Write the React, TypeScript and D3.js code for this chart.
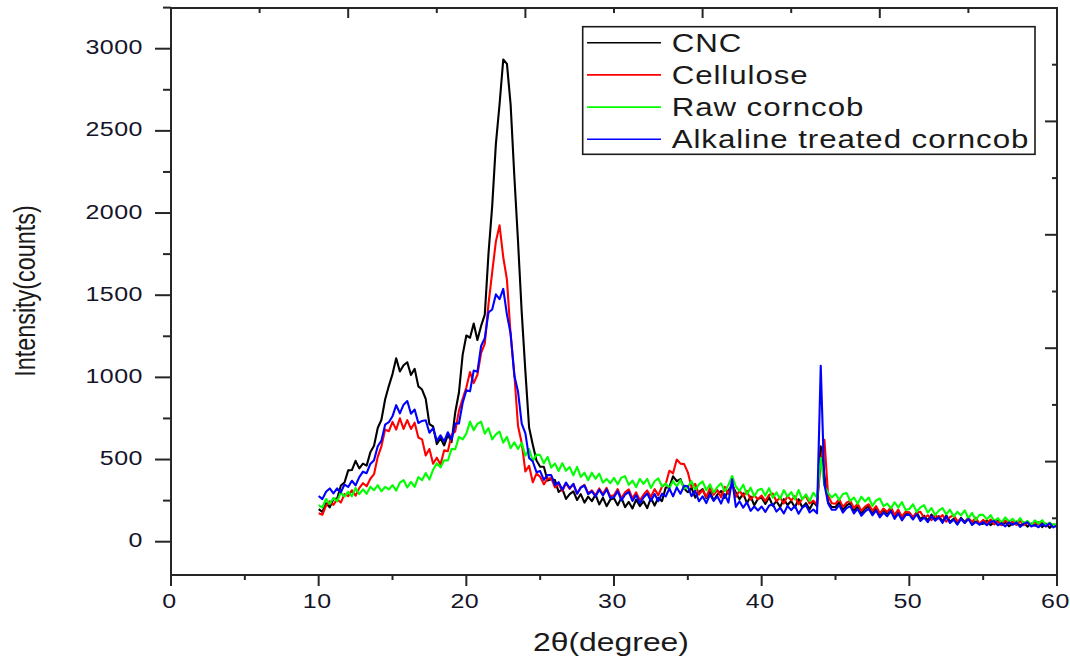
import React from 'react';
import * as d3 from 'd3';

// sampling grid of the diffractograms (2θ, degrees)
const ANGLE_START = 10;
const ANGLE_STEP = 0.25;

// Intensity (counts), one value every 0.25° from 10° to 60°
const cnc = [
  198, 181, 234, 209, 261, 261, 341, 360, 434, 436, 492, 446, 475, 463, 544, 584, 692, 742, 865, 947,
  1020, 1116, 1036, 1074, 1092, 1014, 1052, 945, 926, 869, 715, 701, 594, 630, 586, 650, 606, 788, 908, 1137,
  1255, 1241, 1328, 1228, 1313, 1382, 1752, 2041, 2419, 2662, 2934, 2908, 2659, 2225, 1828, 1397, 1035, 695, 590, 494,
  456, 456, 372, 380, 375, 303, 321, 260, 289, 306, 254, 290, 238, 274, 247, 286, 227, 268, 216, 256,
  264, 222, 268, 210, 242, 202, 256, 217, 246, 204, 266, 220, 267, 247, 329, 332, 398, 368, 381, 324,
  301, 328, 268, 302, 320, 266, 302, 252, 286, 308, 267, 312, 345, 299, 258, 294, 234, 275, 222, 262,
  268, 230, 271, 219, 247, 211, 259, 223, 248, 208, 259, 208, 235, 197, 242, 215, 580, 400, 240, 211,
  211, 240, 194, 221, 234, 189, 217, 175, 201, 217, 178, 207, 165, 194, 172, 203, 155, 187, 144, 175,
  177, 147, 178, 137, 158, 129, 165, 137, 155, 123, 161, 121, 140, 110, 145, 120, 144, 107, 124, 107,
  110, 129, 101, 119, 128, 101, 119, 94, 111, 122, 98, 117, 92, 111, 98, 118, 89, 110, 84, 104,
  100,
];

const cellulose = [
  173, 164, 219, 246, 224, 258, 238, 290, 277, 313, 280, 326, 356, 337, 383, 411, 516, 580, 682, 672,
  729, 682, 751, 686, 740, 686, 724, 634, 623, 524, 564, 474, 511, 469, 556, 550, 651, 671, 798, 869,
  938, 1032, 965, 1016, 1148, 1205, 1446, 1639, 1826, 1925, 1731, 1595, 1258, 1022, 704, 601, 427, 462, 362, 414,
  395, 349, 383, 387, 330, 352, 308, 355, 322, 350, 292, 331, 346, 295, 312, 282, 324, 290, 328, 276,
  282, 320, 264, 300, 318, 264, 300, 251, 286, 312, 272, 320, 282, 336, 350, 432, 416, 500, 475, 472,
  422, 332, 352, 286, 314, 272, 326, 286, 314, 270, 334, 290, 357, 272, 312, 276, 309, 256, 282, 258,
  281, 247, 284, 293, 246, 269, 233, 278, 251, 277, 227, 263, 277, 233, 250, 226, 480, 620, 278, 234,
  231, 259, 212, 238, 250, 204, 231, 188, 213, 228, 188, 216, 173, 202, 180, 211, 163, 195, 152, 183,
  177, 149, 177, 182, 144, 161, 131, 164, 142, 162, 122, 150, 160, 125, 137, 115, 144, 120, 146, 109,
  133, 112, 135, 106, 122, 102, 129, 109, 123, 101, 129, 101, 116, 95, 120, 103, 120, 94, 107, 95,
  104,
];

const rawCorncob = [
  223, 208, 260, 229, 266, 246, 299, 275, 304, 276, 327, 289, 319, 291, 335, 313, 344, 307, 333, 318,
  344, 311, 359, 375, 330, 364, 333, 393, 374, 418, 378, 438, 477, 452, 496, 494, 565, 563, 638, 623,
  658, 731, 678, 717, 731, 657, 691, 622, 653, 670, 602, 638, 569, 605, 564, 602, 523, 564, 492, 530,
  527, 477, 516, 451, 476, 430, 478, 432, 454, 404, 455, 394, 420, 374, 420, 383, 414, 359, 382, 356,
  388, 349, 390, 399, 346, 372, 332, 382, 352, 382, 327, 368, 385, 336, 355, 326, 369, 336, 375, 324,
  331, 369, 313, 349, 367, 313, 349, 299, 333, 355, 307, 345, 400, 336, 308, 347, 288, 329, 276, 315,
  322, 280, 326, 268, 300, 260, 314, 274, 302, 258, 314, 258, 288, 247, 298, 267, 510, 340, 296, 269,
  291, 255, 290, 297, 248, 269, 231, 274, 245, 269, 217, 251, 263, 217, 232, 203, 240, 208, 241, 193,
  199, 228, 182, 209, 222, 177, 205, 163, 189, 205, 166, 195, 153, 182, 160, 191, 143, 175, 132, 163,
  163, 136, 162, 125, 143, 117, 148, 123, 139, 112, 144, 110, 127, 101, 130, 110, 131, 100, 116, 101,
  108,
];

const alkaline = [
  278, 259, 304, 324, 294, 324, 300, 348, 333, 371, 343, 393, 426, 417, 473, 496, 581, 615, 712, 727,
  763, 831, 781, 834, 856, 779, 804, 722, 735, 739, 663, 691, 614, 647, 610, 666, 621, 719, 719, 844,
  921, 915, 1042, 1034, 1191, 1238, 1396, 1413, 1505, 1476, 1538, 1382, 1267, 1011, 914, 719, 659, 509, 488, 423,
  430, 376, 406, 405, 344, 362, 316, 360, 326, 352, 292, 329, 342, 290, 306, 275, 316, 281, 318, 266,
  271, 308, 251, 286, 303, 248, 284, 234, 269, 293, 248, 290, 246, 292, 275, 324, 276, 330, 292, 340,
  337, 277, 310, 246, 276, 235, 288, 248, 276, 232, 289, 238, 380, 212, 246, 207, 240, 188, 214, 190,
  214, 181, 219, 229, 183, 207, 172, 218, 192, 219, 170, 207, 222, 178, 196, 173, 1070, 350, 233, 194,
  194, 223, 177, 204, 217, 172, 200, 158, 184, 200, 161, 190, 148, 177, 155, 186, 139, 172, 130, 162,
  165, 135, 167, 126, 148, 119, 156, 128, 147, 115, 154, 114, 134, 104, 139, 114, 138, 102, 120, 104,
  119, 100, 121, 126, 100, 113, 93, 118, 103, 118, 90, 110, 118, 93, 102, 88, 109, 93, 112, 87,
  98,
];

const seriesNames = ['CNC', 'Cellulose', 'Raw corncob', 'Alkaline treated corncob'];
const seriesColors = ['#000000', '#ff0000', '#00ff00', '#0000ff'];
const seriesData = [cnc, cellulose, rawCorncob, alkaline];

const xTicks = [0, 10, 20, 30, 40, 50, 60];
const xMinorTicks = [5, 15, 25, 35, 45, 55];
const yTicks = [0, 500, 1000, 1500, 2000, 2500, 3000];
const yMinorTicks = [250, 750, 1250, 1750, 2250, 2750, 3250];
const frameTicks = [0.1, 0.2, 0.3, 0.4, 0.5, 0.6, 0.7, 0.8, 0.9];
const frameMajor = [0.2, 0.4, 0.6, 0.8];

const xTitle = '2θ(degree)';
const yTitle = 'Intensity(counts)';

const W = 1070;
const H = 658;
const L = 171;
const R = 1057;
const T = 8;
const B = 575;
const FONT = '"Liberation Sans", Arial, Helvetica, sans-serif';
const SX = 1.25;
const AXIS = '#262626';
const TEXT = '#15152a';

export default function App() {
  const x = d3.scaleLinear().domain([0, 60]).range([L, R]);
  const y = d3.scaleLinear().domain([0, 3000]).range([541.7, 48.7]);
  const fx = d3.scaleLinear().domain([0, 1]).range([L, R]);
  const fy = d3.scaleLinear().domain([0, 1]).range([B, T]);
  const legendY = d3.scaleLinear().domain([0, 1]).range([42.7, 74.9]);

  const line = d3
    .line<number>()
    .x((_, i) => x(ANGLE_START + i * ANGLE_STEP))
    .y((d) => y(d));

  return (
    <svg
      width={W}
      height={H}
      viewBox={`0 0 ${W} ${H}`}
      style={{ position: 'absolute', left: 0, top: 0, background: '#fff' }}
      fontFamily={FONT}
    >
      <rect x={0} y={0} width={W} height={H} fill="#fff" />
      <defs>
        <clipPath id="plotclip">
          <rect x={L} y={T} width={R - L} height={B - T} />
        </clipPath>
      </defs>

      {/* data */}
      <g clipPath="url(#plotclip)" fill="none" strokeWidth={2.1} strokeLinejoin="round">
        {seriesData.map((d, i) => (
          <path key={seriesNames[i]} d={line(d) || ''} stroke={seriesColors[i]} />
        ))}
      </g>

      {/* frame */}
      <g stroke={AXIS} strokeWidth={2} fill="none">
        <line x1={L} y1={T} x2={R} y2={T} />
        <line x1={L} y1={B} x2={R} y2={B} />
        <line x1={L} y1={T - 1} x2={L} y2={B + 1} />
        <line x1={R} y1={T - 1} x2={R} y2={B + 1} />
        {yTicks.map((v) => (
          <line key={'ly' + v} x1={L - 16} x2={L} y1={y(v)} y2={y(v)} />
        ))}
        {yMinorTicks.map((v) => (
          <line key={'lym' + v} x1={L - 8} x2={L} y1={y(v)} y2={y(v)} />
        ))}
        {xTicks.map((v) => (
          <line key={'bx' + v} x1={x(v)} x2={x(v)} y1={B} y2={B + 11} />
        ))}
        {xMinorTicks.map((v) => (
          <line key={'bxm' + v} x1={x(v)} x2={x(v)} y1={B} y2={B + 5} />
        ))}
        {frameTicks.map((f) => (
          <line
            key={'t' + f}
            x1={fx(f)}
            x2={fx(f)}
            y1={T}
            y2={T + (frameMajor.includes(f) ? 10 : 5)}
          />
        ))}
        {frameTicks.map((f) => (
          <line
            key={'r' + f}
            x1={R - (frameMajor.includes(f) ? 12 : 5)}
            x2={R}
            y1={fy(f)}
            y2={fy(f)}
          />
        ))}
      </g>

      {/* tick labels */}
      <g fill={TEXT} fontSize={20} letterSpacing={0.4}>
        {yTicks.map((v) => (
          <text
            key={'yl' + v}
            transform={`translate(${L - 28},${y(v) + 5.6}) scale(${SX},1)`}
            textAnchor="end"
          >
            {v}
          </text>
        ))}
        {xTicks.map((v) => (
          <text
            key={'xl' + v}
            transform={`translate(${x(v) - 1.5},${608}) scale(${SX},1)`}
            textAnchor="middle"
          >
            {v}
          </text>
        ))}
      </g>

      {/* axis titles */}
      <text
        transform={`translate(611,651) scale(${SX},1)`}
        textAnchor="middle"
        fontSize={25.5}
        fill="#1a1a1a"
      >
        {xTitle}
      </text>
      <text
        transform={`translate(35,291) scale(${SX},1) rotate(-90)`}
        textAnchor="middle"
        fontSize={23.4}
        fill="#1a1a1a"
      >
        {yTitle}
      </text>

      {/* legend */}
      <g>
        <rect x={582.7} y={26.7} width={452.3} height={127.6} fill="#fff" stroke="#1a1a1a" strokeWidth={1.6} />
        {seriesNames.map((name, i) => (
          <g key={'lg' + name}>
            <line x1={587} x2={661} y1={legendY(i)} y2={legendY(i)} stroke={seriesColors[i]} strokeWidth={1.6} />
            <text
              transform={`translate(671.7,${legendY(i) + 9}) scale(${SX},1)`}
              fontSize={25}
              letterSpacing={0.75}
              fill="#1a1a1a"
            >
              {name}
            </text>
          </g>
        ))}
      </g>
    </svg>
  );
}
